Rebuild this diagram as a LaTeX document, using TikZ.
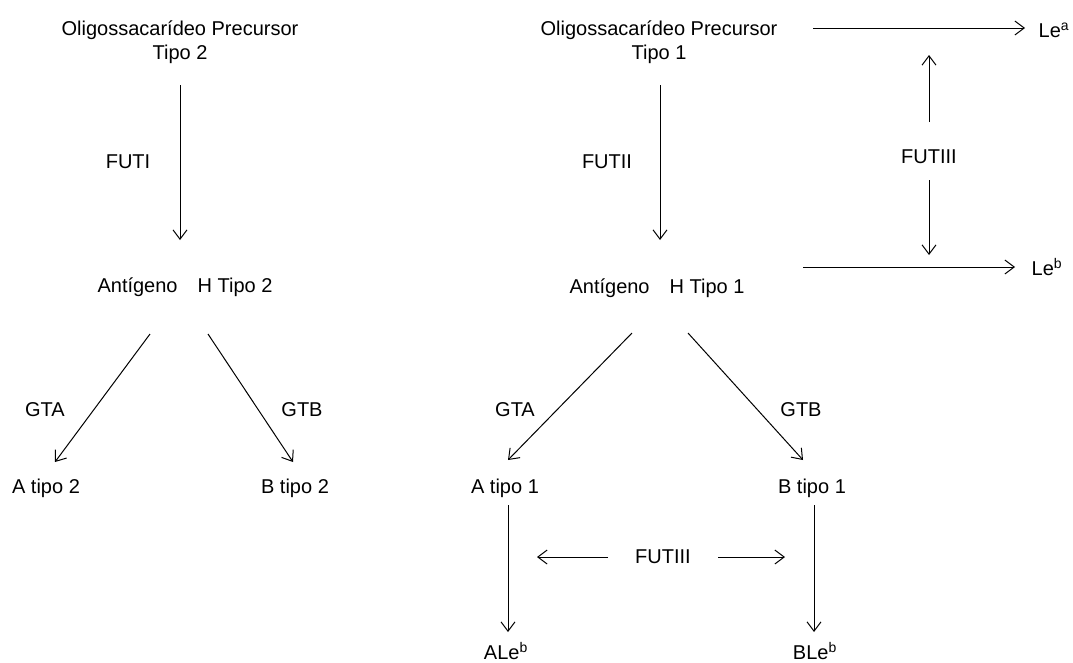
\documentclass[tikz,border=0pt]{standalone}
\usepackage{fontspec}
\setmainfont{Liberation Sans}
\usetikzlibrary{arrows.meta}

\begin{document}
\begin{tikzpicture}[x=0.75pt,y=0.75pt,yscale=-1,xscale=1,
  lbl/.style={inner sep=0.75pt, font=\fontsize{15}{18}\selectfont, align=center},
  arr/.style={line width=0.75pt, -{Straight Barb[length=7pt,width=10.5pt,line width=0.75pt]}}]
\useasboundingbox (0,0) rectangle (1073,662);

% Text Node
\node [lbl] (prec2) at (180,42) {Oligossacarídeo Precursor\\Tipo 2};
% Text Node
\node [lbl] (prec1) at (659,42) {Oligossacarídeo Precursor\\Tipo 1};
% Text Node
\node [lbl] (futi) at (128,162) {FUTI};
% Text Node
\node [lbl] (futii) at (607,162) {FUTII};
% Text Node
\node [lbl] (antH2) at (185,287) {Antígeno\hspace{15pt}H Tipo 2};
% Text Node
\node [lbl] (antH1) at (657,288) {Antígeno\hspace{15pt}H Tipo 1};
% Text Node
\node [lbl] (gta2) at (45,410) {GTA};
% Text Node
\node [lbl] (gtb2) at (302,410) {GTB};
% Text Node
\node [lbl] (gta1) at (515,410) {GTA};
% Text Node
\node [lbl] (gtb1) at (801,410) {GTB};
% Text Node
\node [lbl] (atipo2) at (46,488) {A tipo 2};
% Text Node
\node [lbl] (btipo2) at (295,488) {B tipo 2};
% Text Node
\node [lbl] (atipo1) at (505,488) {A tipo 1};
% Text Node
\node [lbl] (btipo1) at (812,488) {B tipo 1};
% Text Node
\node [lbl] (lea) at (1054,30) {Le\textsuperscript{a}};
% Text Node
\node [lbl] (leb) at (1047,267) {Le\textsuperscript{b}};
% Text Node
\node [lbl] (fut3v) at (929,157) {FUTIII};
% Text Node
\node [lbl] (fut3h) at (663,557) {FUTIII};
% Text Node
\node [lbl] (aleb) at (506,651) {ALe\textsuperscript{b}};
% Text Node
\node [lbl] (bleb) at (815,651) {BLe\textsuperscript{b}};

%Straight Lines (type 2)
\draw [arr] ([shift={(0,43)}]prec2.center) -- ([shift={(-5,-47)}]antH2.center);
\draw [arr] ([shift={(-35,47)}]antH2.center) -- ([shift={(9,-26)}]atipo2.center);
\draw [arr] ([shift={(23,47)}]antH2.center) -- ([shift={(-2,-26)}]btipo2.center);
%Straight Lines (type 1)
\draw [arr] ([shift={(1,43)}]prec1.center) -- ([shift={(3,-48)}]antH1.center);
\draw [arr] ([shift={(-25,45)}]antH1.center) -- ([shift={(3,-28)}]atipo1.center);
\draw [arr] ([shift={(31,45)}]antH1.center) -- ([shift={(-9,-28)}]btipo1.center);
%Straight Lines (Lewis)
\draw [arr] ([shift={(154,-14)}]prec1.center) -- ([shift={(-29,-2)}]lea.center);
\draw [arr] ([shift={(146,-21)}]antH1.center) -- ([shift={(-32,0)}]leb.center);
\draw [arr] ([shift={(0,-35)}]fut3v.center) -- ([shift={(-125,25)}]lea.center);
\draw [arr] ([shift={(0,23)}]fut3v.center) -- ([shift={(-118,-12)}]leb.center);
%Straight Lines (ALeb, BLeb)
\draw [arr] ([shift={(3,17)}]atipo1.center) -- ([shift={(2,-19)}]aleb.center);
\draw [arr] ([shift={(2,17)}]btipo1.center) -- ([shift={(-1,-19)}]bleb.center);
\draw [arr] ([shift={(-55,0)}]fut3h.center) -- ([shift={(32,69)}]atipo1.center);
\draw [arr] ([shift={(55,0)}]fut3h.center) -- ([shift={(-27,69)}]btipo1.center);

\end{tikzpicture}
\end{document}
